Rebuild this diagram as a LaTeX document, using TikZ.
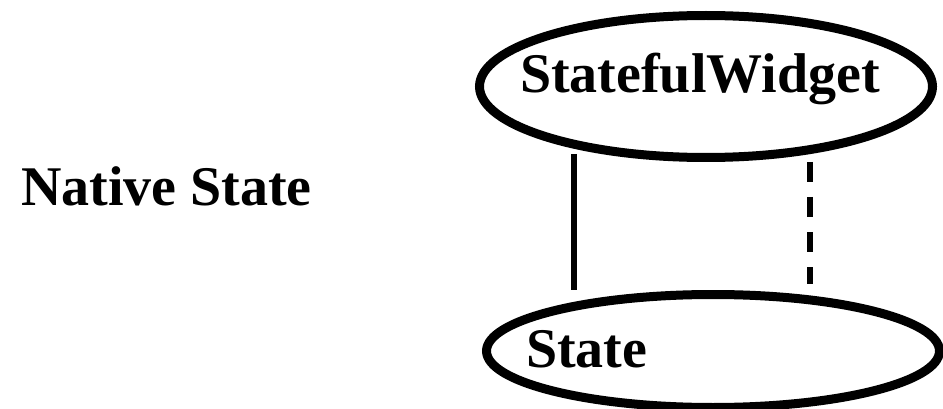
\documentclass[tikz,border=0pt]{standalone}
\usepackage{fontspec}
\setmainfont{Liberation Serif}
\usetikzlibrary{shapes.geometric}

\tikzset{
  classshape/.style={draw=black, ellipse, line width=9pt, inner sep=0pt, outer sep=0pt},
  label text/.style={anchor=base west, inner sep=0pt, outer sep=0pt,
                     font=\fontsize{56}{60}\selectfont\bfseries},
  solidlink/.style={draw=black, line width=5.5pt},
  dashedlink/.style={draw=black, line width=5.5pt, dash pattern=on 20pt off 15pt}
}

\begin{document}
\begin{tikzpicture}[x=1pt, y=-1pt]
  \useasboundingbox (0,0) rectangle (943,409);

  % the two classes
  \node[classshape, minimum width=453pt, minimum height=142pt] (widget) at (706,86.5) {};
  \node[classshape, minimum width=453pt, minimum height=113pt] (state) at (713,351) {};

  % their names
  \node[label text] (widgettext) at (520,93) {StatefulWidget};
  \node[label text] (statetext) at (526,367) {State};
  \node[label text] (native) at (21,205) {Native State};

  % links between the classes
  \coordinate (solidtop) at (574,154);
  \coordinate (solidbot) at (574,290);
  \coordinate (dashtop) at (810,162);
  \coordinate (dashbot) at (810,284);
  \path[solidlink] (solidtop) -- (solidbot);
  \path[dashedlink] (dashtop) -- (dashbot);
\end{tikzpicture}
\end{document}
